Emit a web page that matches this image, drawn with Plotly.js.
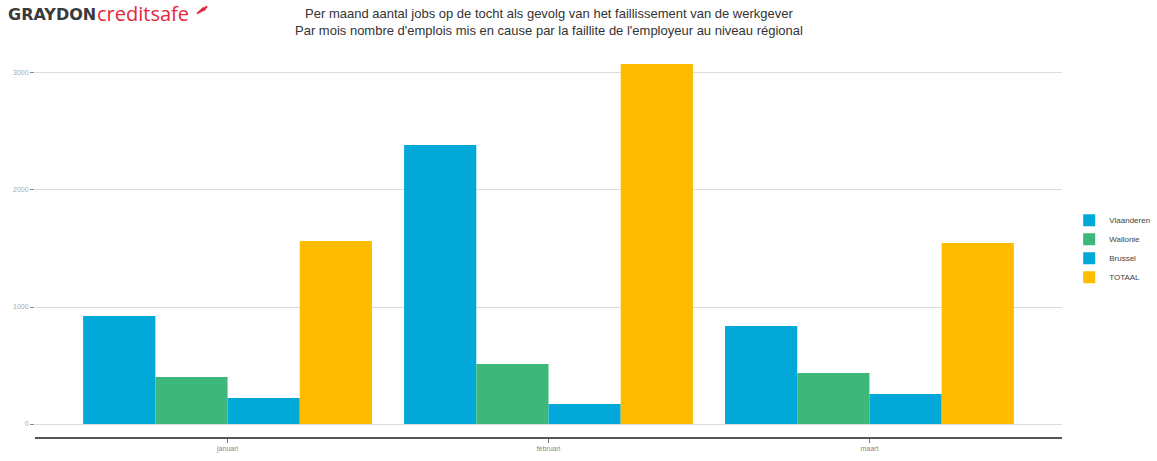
<!DOCTYPE html>
<html>
<head>
<meta charset="utf-8">
<script src="https://cdn.plot.ly/plotly-3.0.1.min.js"></script>
<style>html,body{margin:0;padding:0;background:#fff;}#chart{width:1157px;height:461px;}</style>
</head>
<body>
<div id="chart"></div>
<script>
var months = ["januari", "februari", "maart"];
var seriesNames = ["Vlaanderen", "Wallonie", "Brussel", "TOTAAL"];
var vlaanderen = [923, 2385, 838];
var wallonie = [402, 513, 436];
var brussel = [222, 171, 256];
var totaal = [1564, 3077, 1547];
var yTicks = [0, 1000, 2000, 3000];

var colors = ["#02a8d8", "#3db87a", "#02a8d8", "#ffbb00"];
var values = [vlaanderen, wallonie, brussel, totaal];

var traces = seriesNames.map(function (n, i) {
  return {
    type: "bar",
    name: n,
    x: months,
    y: values[i],
    marker: { color: colors[i], line: { width: 0 } },
    hoverinfo: "x+y+name"
  };
});

var layout = {
  width: 1157,
  height: 461,
  margin: { l: 35, r: 95, t: 45, b: 24, pad: 0, autoexpand: false },
  paper_bgcolor: "#ffffff",
  plot_bgcolor: "#ffffff",
  barmode: "group",
  bargap: 0.1,
  bargroupgap: 0,
  font: { family: "Liberation Sans, Arial, sans-serif", color: "#333" },
  xaxis: {
    range: [-0.6, 2.6],
    showgrid: false,
    zeroline: false,
    showline: true,
    linecolor: "#555",
    linewidth: 2,
    ticks: "outside",
    ticklen: 4,
    tickcolor: "#777",
    tickfont: { size: 7, color: "#888" },
    fixedrange: true
  },
  yaxis: {
    range: [-111, 3239],
    tickvals: yTicks,
    ticktext: yTicks.map(String),
    showgrid: true,
    gridcolor: "#dcdcdc",
    gridwidth: 1,
    zeroline: false,
    showline: false,
    ticks: "outside",
    ticklen: 4,
    tickcolor: "#888",
    tickfont: { size: 7, color: "#aaa" },
    fixedrange: true
  },
  legend: {
    x: 1.007,
    y: 0.48,
    xanchor: "left",
    yanchor: "middle",
    font: { size: 8, color: "#444" },
    tracegroupgap: 0,
    itemwidth: 30
  },
  shapes: [
    {
      type: "path", xref: "paper", yref: "paper",
      path: "M 0.1578,1.080 L 0.1640,1.095 L 0.1655,1.091 Z",
      fillcolor: "#e4263c", line: { color: "#e4263c", width: 1.5 }
    },
    {
      type: "line", xref: "paper", yref: "paper",
      x0: 0.1635, y0: 1.088, x1: 0.1675, y1: 1.099,
      line: { color: "#e4263c", width: 2 }
    }
  ],
  annotations: [
    {
      xref: "paper", yref: "paper",
      x: 0.5, y: 1.059, xanchor: "center", yanchor: "middle",
      text: "Per maand aantal jobs op de tocht als gevolg van het faillissement van de werkgever<br>Par mois nombre d'emplois mis en cause par la faillite de l'employeur au niveau régional",
      showarrow: false,
      align: "center",
      font: { size: 13, color: "#333", family: "Liberation Sans, Arial, sans-serif" }
    },
    {
      xref: "paper", yref: "paper",
      x: -0.028, y: 1.079, xanchor: "left", yanchor: "middle",
      text: "<b>GRAYDON</b>",
      showarrow: false,
      font: { size: 16, color: "#3a3a3c", family: "DejaVu Sans, sans-serif" }
    },
    {
      xref: "paper", yref: "paper",
      x: 0.0585, y: 1.081, xanchor: "left", yanchor: "middle",
      text: "creditsafe",
      showarrow: false,
      font: { size: 20, color: "#e4263c", family: "Open Sans, sans-serif" }
    }
  ]
};

Plotly.newPlot("chart", traces, layout, { displayModeBar: false, staticPlot: true });
</script>
</body>
</html>
